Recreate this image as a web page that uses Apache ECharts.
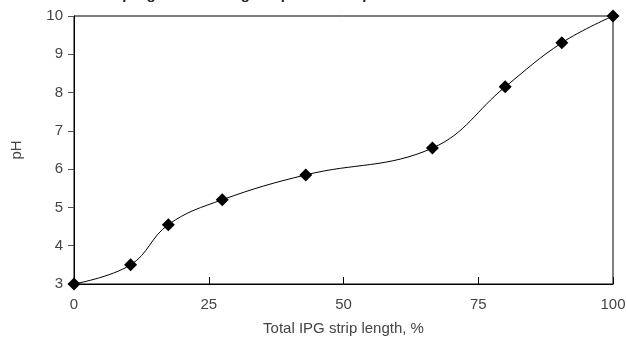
<!DOCTYPE html>
<html>
<head>
<meta charset="utf-8">
<script src="https://cdn.jsdelivr.net/npm/echarts@6/dist/echarts.min.js"></script>
<style>
  html, body { margin: 0; padding: 0; background: #fff; }
  #chart { width: 627px; height: 337px; }
</style>
</head>
<body>
<div id="chart"></div>
<script>
// strip position (% of total length) vs pH
var stripLength = [0, 10.5, 17.5, 27.5, 43, 66.5, 80, 90.5, 100];
var phValues = [3, 3.5, 4.55, 5.2, 5.85, 6.55, 8.15, 9.3, 10];
var xTicks = [0, 25, 50, 75, 100];
var yTicks = [3, 4, 5, 6, 7, 8, 9, 10];

var chart = echarts.init(document.getElementById('chart'));
var font = 'Liberation Sans';

var option = {
  animation: false,
  backgroundColor: '#fff',
  // title sits mostly above the visible area, as in the cropped source
  title: {
    text: 'Nonlinear pH gradient along the pH 3-10 strip',
    left: 44,
    top: -18,
    textStyle: { fontFamily: font, fontWeight: 'bold', fontSize: 15, color: '#222' }
  },
  grid: {
    left: 74, right: 14, top: 16, bottom: 53,
    outerBoundsMode: 'none',
    containLabel: false,
    show: true, borderColor: '#000', borderWidth: 1
  },
  xAxis: {
    type: 'value',
    min: 0, max: 100, interval: 25,
    name: 'Total IPG strip length, %',
    nameLocation: 'middle',
    nameGap: 37,
    nameTextStyle: { fontFamily: font, fontSize: 15, color: '#444' },
    axisLine: { lineStyle: { color: '#000', width: 1 } },
    axisTick: { inside: true, length: 7, lineStyle: { color: '#000' } },
    axisLabel: {
      fontFamily: font, fontSize: 15, color: '#444', margin: 13,
      formatter: function (v) { return xTicks.indexOf(v) >= 0 ? String(v) : ''; }
    },
    splitLine: { show: false }
  },
  yAxis: {
    type: 'value',
    min: 3, max: 10, interval: 1,
    name: 'pH',
    nameLocation: 'middle',
    nameGap: 50,
    nameTextStyle: { fontFamily: font, fontSize: 15, color: '#444' },
    axisLine: { show: true, lineStyle: { color: '#000', width: 1 } },
    axisTick: { show: true, length: 6, lineStyle: { color: '#555' } },
    axisLabel: {
      fontFamily: font, fontSize: 15, color: '#444', margin: 11,
      formatter: function (v) { return yTicks.indexOf(v) >= 0 ? String(v) : ''; }
    },
    splitLine: { show: false }
  },
  series: [{
    type: 'line',
    data: stripLength.map(function (x, i) { return [x, phValues[i]]; }),
    smooth: 0.4,
    symbol: 'diamond',
    symbolSize: 13,
    clip: false,
    lineStyle: { color: '#000', width: 1 },
    itemStyle: { color: '#000' }
  }]
};

chart.setOption(option);
</script>
</body>
</html>
